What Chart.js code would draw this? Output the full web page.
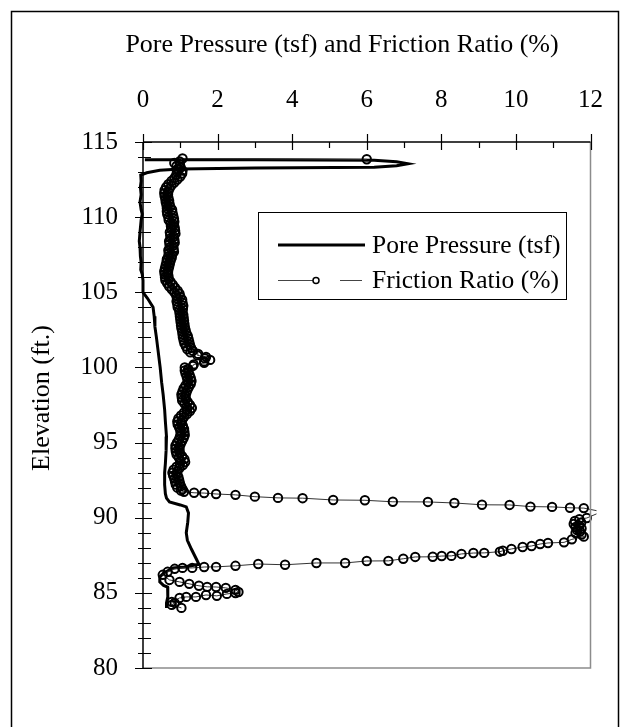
<!DOCTYPE html>
<html><head><meta charset="utf-8">
<script src="https://cdn.jsdelivr.net/npm/chart.js@4/dist/chart.umd.min.js"></script>
<style>html,body{margin:0;padding:0;background:#fff}canvas{display:block}</style>
</head><body>
<canvas id="c" width="630" height="727"></canvas>
<script>
// ---------- DATA ----------
const xAxisTitle = 'Pore Pressure (tsf) and Friction Ratio (%)';
const yAxisTitle = 'Elevation (ft.)';
const seriesNames = ['Pore Pressure (tsf)', 'Friction Ratio (%)'];
const xTickLabels = [0, 2, 4, 6, 8, 10, 12];
const yTickLabels = [80, 85, 90, 95, 100, 105, 110, 115];

// Pore pressure (tsf) vs elevation (ft)
const poreElev = [113.82,113.82,113.78,113.68,113.55,113.42,113.32,113.27,113.2,113.12,112.95,112.8,112.4,112.0,111.5,111.0,110.5,110.2,109.8,109.0,108.4,108.0,107.4,107.0,106.5,106.2,105.8,105.0,104.6,104.0,103.4,102.7,102.0,101.2,100.0,99.0,98.2,97.2,96.4,95.4,94.5,93.6,93.0,92.2,91.6,91.3,91.05,90.85,90.72,90.32,89.7,89.0,88.5,87.9,87.3,86.9,86.72,86.66,86.3,86.06,85.73,85.5,85.39,84.9,84.73,84.33,84.0];
const porePressure = [0.05,3.0,6.2,6.8,7.1,6.8,6.2,3.0,1.0,0.45,0.1,-0.06,-0.05,-0.07,-0.05,-0.08,-0.05,-0.02,-0.05,-0.08,-0.1,-0.08,-0.07,-0.05,-0.06,-0.02,0.0,0.0,0.12,0.27,0.30,0.32,0.36,0.40,0.46,0.50,0.54,0.58,0.60,0.63,0.62,0.60,0.58,0.58,0.60,0.63,0.71,1.0,1.16,1.22,1.20,1.16,1.19,1.30,1.42,1.50,1.1,0.8,0.55,0.45,0.45,0.55,0.66,0.67,0.66,0.63,0.63];

// Friction ratio (%) vs elevation (ft)
const frictionElev = [113.85,113.9,
113.7,113.6,113.5,113.4,113.3,113.2,113.1,113.0,
112.9,112.8,112.7,112.6,112.5,112.4,112.3,112.2,112.1,112.0,
111.9,111.8,111.7,111.6,111.5,111.4,111.3,111.2,111.1,111.0,
110.9,110.8,110.7,110.6,110.5,110.4,110.3,110.2,110.1,110.0,
109.9,109.8,109.7,109.6,109.5,109.4,109.3,109.2,109.1,109.0,
108.9,108.8,108.7,108.6,108.5,108.4,108.3,108.2,108.1,108.0,
107.9,107.8,107.7,107.6,107.5,107.4,107.3,107.2,107.1,107.0,
106.9,106.8,106.7,106.6,106.5,106.4,106.3,106.2,106.1,106.0,
105.9,105.8,105.7,105.6,105.5,105.4,105.3,105.2,105.1,105.0,
104.9,104.8,104.7,104.6,104.5,104.4,104.3,104.2,104.1,104.0,
103.9,103.8,103.7,103.6,103.5,103.4,103.3,103.2,103.1,103.0,
102.9,102.8,102.7,102.6,102.5,102.4,102.3,102.2,102.1,102.0,
101.9,101.8,101.7,101.6,101.5,101.4,101.3,101.2,101.1,101.0,
100.9,100.8,100.7,100.6,100.5,100.4,100.3,100.2,100.1,100.0,
99.9,99.8,99.7,99.6,99.5,99.4,99.3,99.2,99.1,99.0,
98.9,98.8,98.7,98.6,98.5,98.4,98.3,98.2,98.1,98.0,
97.9,97.8,97.7,97.6,97.5,97.4,97.3,97.2,97.1,97.0,
96.9,96.8,96.7,96.6,96.5,96.4,96.3,96.2,96.1,96.0,
95.9,95.8,95.7,95.6,95.5,95.4,95.3,95.2,95.1,95.0,
94.9,94.8,94.7,94.6,94.5,94.4,94.3,94.2,94.1,94.0,
93.9,93.8,93.7,93.6,93.5,93.4,93.3,93.2,93.1,93.0,
92.9,92.8,92.7,92.6,92.5,92.4,92.3,92.2,92.1,92.0,
91.9,91.8,
91.72,91.66,91.64,91.58,91.52,91.40,91.32,91.30,91.18,91.16,91.06,91.05,90.98,90.86,90.85,90.74,90.72,90.66,90.64,90.40,
89.98,89.90,89.78,89.68,89.58,89.48,89.38,89.28,89.18,89.08,88.98,88.88,88.74,88.56,
88.36,88.32,88.25,88.12,88.05,87.92,87.80,87.74,87.66,87.65,87.59,87.46,87.45,87.40,87.39,87.27,87.13,87.12,86.99,86.99,86.87,86.92,86.80,86.73,86.72,86.66,86.66,86.60,86.40,86.20,
85.86,85.73,85.60,85.47,85.40,85.39,85.33,85.20,85.06,84.99,84.93,84.80,84.86,84.73,84.73,84.66,84.40,84.33,84.20,84.00];
const frictionRatio = [6.0,1.06,
0.98,0.84,0.99,0.90,1.01,0.93,1.06,0.91,
1.05,0.89,1.00,0.84,0.92,0.76,0.84,0.68,0.76,0.62,
0.71,0.58,0.68,0.57,0.67,0.58,0.68,0.60,0.70,0.61,
0.71,0.63,0.73,0.64,0.78,0.64,0.79,0.65,0.81,0.68,
0.83,0.69,0.84,0.74,0.83,0.75,0.85,0.76,0.86,0.72,
0.87,0.73,0.83,0.74,0.84,0.70,0.85,0.71,0.81,0.72,
0.82,0.68,0.83,0.69,0.78,0.68,0.77,0.64,0.74,0.63,
0.72,0.61,0.70,0.59,0.68,0.57,0.67,0.58,0.68,0.59,
0.69,0.60,0.74,0.65,0.80,0.70,0.86,0.77,0.93,0.84,
0.98,0.89,1.00,0.91,1.05,0.90,1.06,0.92,1.08,0.93,
1.07,0.97,1.06,0.98,1.08,0.99,1.09,1.00,1.10,1.01,
1.11,1.02,1.12,1.03,1.14,1.05,1.16,1.06,1.20,1.07,
1.22,1.09,1.24,1.11,1.26,1.15,1.29,1.19,1.34,1.27,
1.48,1.46,1.69,1.66,1.80,1.64,1.64,1.36,1.34,1.12,
1.21,1.12,1.22,1.14,1.25,1.17,1.28,1.19,1.30,1.20,
1.28,1.14,1.23,1.09,1.19,1.06,1.16,1.03,1.14,1.04,
1.15,1.05,1.20,1.11,1.26,1.17,1.31,1.18,1.26,1.10,
1.18,1.02,1.10,0.95,1.05,0.92,1.03,0.93,1.07,0.97,
1.10,1.00,1.11,1.01,1.12,0.99,1.09,0.96,1.05,0.91,
1.01,0.87,0.98,0.87,0.98,0.88,0.99,0.90,1.05,0.96,
1.11,1.00,1.13,0.99,1.07,0.90,0.98,0.82,0.92,0.79,
0.92,0.81,0.95,0.84,0.97,0.86,0.99,0.88,1.02,0.92,
1.06,1.02,
1.10,1.37,1.64,1.96,2.48,3.00,3.62,4.28,5.10,5.95,6.70,7.64,8.35,9.09,9.83,10.39,10.97,11.45,11.82,12.30,
11.90,11.70,11.58,11.75,11.55,11.70,11.60,11.76,11.64,11.72,11.60,11.76,11.82,11.50,
11.29,10.86,10.65,10.42,10.18,9.88,9.65,9.57,9.15,8.86,8.54,8.27,8.01,7.77,7.30,6.98,6.58,6.00,5.42,4.65,3.81,3.09,2.48,1.96,1.64,1.32,1.06,0.85,0.66,0.53,
0.71,0.98,1.24,1.50,1.72,1.96,2.22,2.48,2.56,2.48,2.25,1.98,1.69,1.42,1.16,0.98,0.77,0.85,0.77,1.03];

// ---------- CHART ----------
const FONT = "'Liberation Serif','Times New Roman',Times,serif";
const FS = 25;     // tick labels
const FT = 26;     // axis titles
const FL = 25.5;   // legend
const toPoints = (xs, ys) => xs.map((v, i) => ({x: v, y: ys[i]}));

const decorPlugin = {
  id: 'decor',
  beforeDraw(chart) {
    const c = chart.ctx;
    c.save();
    c.fillStyle = '#fff';
    c.fillRect(0, 0, chart.width, chart.height);
    c.restore();
  },
  afterDatasetsDraw(chart) {
    const c = chart.ctx, a = chart.chartArea;
    const xs = chart.scales.x, ys = chart.scales.y;
    c.save();
    c.strokeStyle = '#8c8c8c';
    c.lineWidth = 1.5;
    c.beginPath();
    c.moveTo(a.right, a.top); c.lineTo(a.right, a.bottom); c.lineTo(a.left, a.bottom);
    c.stroke();
    c.strokeStyle = '#000';
    c.lineWidth = 1.5;
    c.beginPath();
    c.moveTo(a.left, a.top); c.lineTo(a.right, a.top);
    c.moveTo(a.left, a.top); c.lineTo(a.left, a.bottom);
    c.stroke();
    c.lineWidth = 1.2;
    c.beginPath();
    for (let v = xs.min; v <= xs.max + 1e-9; v += 1) {
      const px = Math.round(xs.getPixelForValue(v)) + 0.5;
      const major = Math.abs(v % 2) < 1e-9;
      c.moveTo(px, a.top - (major ? 8 : 0));
      c.lineTo(px, a.top + (major ? 8 : 6));
    }
    for (let v = ys.min; v <= ys.max + 1e-9; v += 1) {
      const py = Math.round(ys.getPixelForValue(v)) + 0.5;
      const major = Math.abs(v % 5) < 1e-9;
      c.moveTo(a.left - (major ? 8 : 5), py);
      c.lineTo(a.left + (major ? 9 : 8), py);
    }
    c.stroke();
    c.restore();
  },
  afterDraw(chart) {
    const c = chart.ctx;
    c.save();
    c.strokeStyle = '#000';
    c.lineWidth = 1.5;
    c.strokeRect(11.5, 11.5, 607, 760);
    c.fillStyle = '#000';
    c.font = FT + 'px ' + FONT;
    c.textAlign = 'center';
    c.textBaseline = 'middle';
    c.fillText(xAxisTitle, 342, 45);
    c.translate(42, 398);
    c.rotate(-Math.PI / 2);
    c.fillText(yAxisTitle, 0, 0);
    c.restore();

    c.save();
    const L = 258.5, T = 212.5, W = 308, H = 87;
    c.fillStyle = '#fff';
    c.fillRect(L, T, W, H);
    c.strokeStyle = '#000';
    c.lineWidth = 1;
    c.strokeRect(L, T, W, H);
    c.font = FL + 'px ' + FONT;
    c.fillStyle = '#000';
    c.textAlign = 'left';
    c.textBaseline = 'middle';
    c.lineWidth = 3;
    c.beginPath(); c.moveTo(278, 245); c.lineTo(365, 245); c.stroke();
    c.fillText(seriesNames[0], 372, 246);
    c.strokeStyle = '#444';
    c.lineWidth = 1;
    c.beginPath(); c.moveTo(278, 280.5); c.lineTo(313, 280.5); c.moveTo(340, 280.5); c.lineTo(362, 280.5); c.stroke();
    c.strokeStyle = '#000';
    c.lineWidth = 1.5;
    c.beginPath(); c.arc(316, 280.5, 3, 0, Math.PI * 2); c.fillStyle = '#fff'; c.fill(); c.stroke();
    c.fillStyle = '#000';
    c.fillText(seriesNames[1], 372, 281);
    c.restore();
  }
};

new Chart(document.getElementById('c'), {
  type: 'scatter',
  data: {
    datasets: [
      {
        label: seriesNames[0],
        data: toPoints(porePressure, poreElev),
        showLine: true,
        borderColor: '#000',
        borderWidth: 3,
        pointRadius: 0,
        tension: 0,
        order: 2,
        clip: {left: 8, top: 8, right: 8, bottom: 0}
      },
      {
        label: seriesNames[1],
        data: toPoints(frictionRatio, frictionElev),
        showLine: true,
        borderColor: '#333',
        borderWidth: 1,
        pointRadius: 4.2,
        pointBorderWidth: 2,
        pointBackgroundColor: 'rgba(255,255,255,0)',
        pointBorderColor: '#000',
        tension: 0,
        order: 1,
        clip: {left: 8, top: 8, right: 6, bottom: 0}
      }
    ]
  },
  options: {
    responsive: false,
    animation: false,
    devicePixelRatio: 1,
    layout: {padding: {left: 0, top: 0, right: 33, bottom: 59}},
    plugins: {legend: {display: false}, tooltip: {enabled: false}},
    scales: {
      x: {
        type: 'linear', position: 'top', min: 0, max: 12,
        afterBuildTicks(s) { s.ticks = xTickLabels.map(v => ({value: v})); },
        ticks: {color: '#000', font: {family: FONT, size: FS}, padding: 27, maxRotation: 0},
        grid: {display: false, drawTicks: false},
        border: {display: false},
        title: {display: false},
        afterFit(s) { s.height = 142; }
      },
      y: {
        type: 'linear', position: 'left', min: 80, max: 115,
        afterBuildTicks(s) { s.ticks = yTickLabels.map(v => ({value: v})); },
        ticks: {color: '#000', font: {family: FONT, size: FS}, padding: 25},
        grid: {display: false, drawTicks: false},
        border: {display: false},
        title: {display: false},
        afterFit(s) { s.width = 143; }
      }
    }
  },
  plugins: [decorPlugin]
});
</script>
</body></html>
